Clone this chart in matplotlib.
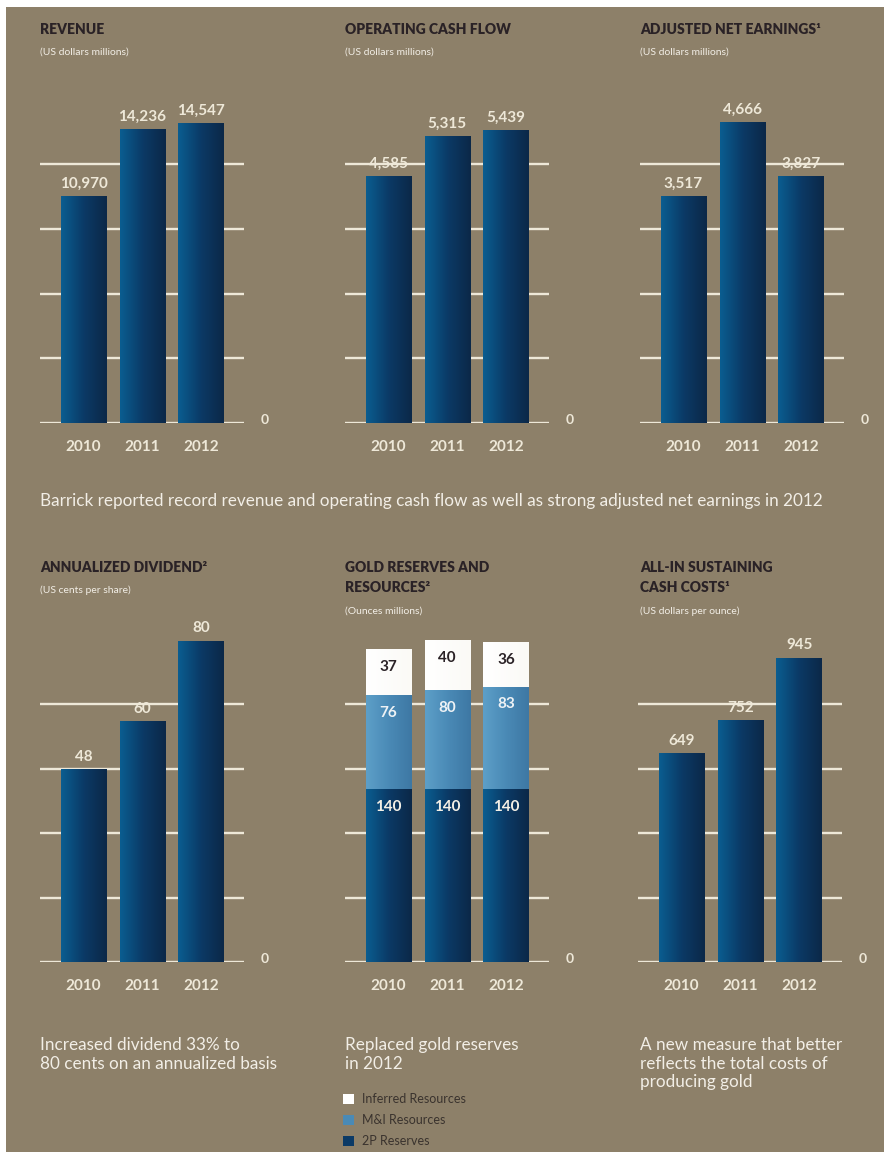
import matplotlib
matplotlib.use('Agg')
import matplotlib.pyplot as plt
from matplotlib.patches import Rectangle, Patch
from matplotlib.colors import LinearSegmentedColormap
import numpy as np

W, H = 884, 1152
BG = '#8d8069'
CREAM = '#eee8d8'
DARK = '#2a2226'
plt.rcParams['font.family'] = ['Lato', 'DejaVu Sans']

# data
years = ['2010', '2011', '2012']
revenue = [10970, 14236, 14547]
op_cash_flow = [4585, 5315, 5439]
adj_net_earnings = [3517, 4666, 3827]
dividend = [48, 60, 80]
reserves_2p = [140, 140, 140]
mi_resources = [76, 80, 83]
inferred_resources = [37, 40, 36]
aisc = [649, 752, 945]

dark_cmap = LinearSegmentedColormap.from_list('dk', ['#0a5d90', '#0b3a66', '#0c2848'])
light_cmap = LinearSegmentedColormap.from_list('lt', ['#5d9fc8', '#4a8ab6', '#3e78a4'])
white_cmap = LinearSegmentedColormap.from_list('wh', ['#ffffff', '#fbfaf6'])
grad = np.linspace(0, 1, 64).reshape(1, -1)

fig = plt.figure(figsize=(W / 100, H / 100), dpi=100, facecolor='white')
fig.patches.append(Rectangle((6 / W, 0), 1, 1 - 7 / H, transform=fig.transFigure,
                             facecolor=BG, edgecolor='none', zorder=-10))


def ftext(x, y, s, **kw):
    kw.setdefault('va', 'center')
    return fig.text(x / W, 1 - y / H, s, **kw)


def chart(left, baseline, top, series, maxpx, gridpx, labels='top'):
    ax = fig.add_axes([left / W, 1 - baseline / H, 204 / W, (baseline - top) / H])
    ax.set_axis_off()
    total = np.sum([s[0] for s in series], axis=0)
    scale = max(total) / maxpx
    ymax = scale * (baseline - top)
    for k in range(5):
        ax.axhline(k * gridpx * scale, color=CREAM, lw=1.7, zorder=1)
    x = np.arange(len(years))
    bottom = np.zeros(len(years))
    for vals, cmap, tcol in series:
        bars = ax.bar(x, vals, 0.77, bottom=bottom, color='none', zorder=2)
        for p, v in zip(bars.patches, vals):
            x0, y0 = p.get_xy()
            ax.imshow(grad, extent=[x0, x0 + p.get_width(), y0, y0 + p.get_height()],
                      aspect='auto', cmap=cmap, zorder=3, interpolation='bilinear')
            if labels == 'top':
                ax.annotate(f'{v:,}', (x0 + p.get_width() / 2, y0 + p.get_height()),
                            xytext=(0, 4), textcoords='offset points', ha='center',
                            va='bottom', color=CREAM, fontsize=11, fontweight='bold', zorder=5)
            else:
                ax.annotate(f'{v:,}', (x0 + p.get_width() / 2, y0 + p.get_height()),
                            xytext=(0, -12.5), textcoords='offset points', ha='center',
                            va='center', color=tcol, fontsize=11, fontweight='bold', zorder=5)
        bottom = bottom + np.array(vals)
    ax.set_xlim(-0.74, 2.73)
    ax.set_ylim(0, ymax)
    for xi, yr in zip(x, years):
        ax.annotate(yr, (xi, 0), xytext=(0, -17.5), textcoords='offset points',
                    ha='center', va='center', color=CREAM, fontsize=11, fontweight='bold')
    ax.annotate('0', (1, 0), xycoords=('axes fraction', 'data'), xytext=(12, 2),
                textcoords='offset points', ha='left', va='center', color=CREAM,
                fontsize=10, fontweight='bold')
    return ax


# top row
chart(40, 423, 100, [(revenue, dark_cmap, CREAM)], 300, 64.75)
chart(345, 423, 100, [(op_cash_flow, dark_cmap, CREAM)], 293, 64.75)
chart(640, 423, 100, [(adj_net_earnings, dark_cmap, CREAM)], 301, 64.75)

# bottom row
chart(40, 962, 620, [(dividend, dark_cmap, CREAM)], 321, 64.5)
chart(345, 962, 620, [(reserves_2p, dark_cmap, '#f4f0e6'),
                      (mi_resources, light_cmap, '#eef2f5'),
                      (inferred_resources, white_cmap, DARK)], 321, 64.5, labels='inside')
chart(638, 962, 620, [(aisc, dark_cmap, CREAM)], 304, 64.5)

tkw = dict(color=DARK, fontsize=10, fontweight='heavy')
skw = dict(color='#f2eee6', fontsize=7.5)
ftext(40, 30, 'REVENUE', **tkw)
ftext(40, 52, '(US dollars millions)', **skw)
ftext(345, 30, 'OPERATING CASH FLOW', **tkw)
ftext(345, 52, '(US dollars millions)', **skw)
ftext(640, 30, 'ADJUSTED NET EARNINGS\u00b9', **tkw)
ftext(640, 52, '(US dollars millions)', **skw)

ftext(40, 568, 'ANNUALIZED DIVIDEND\u00b2', **tkw)
ftext(40, 590, '(US cents per share)', **skw)
ftext(345, 568, 'GOLD RESERVES AND', **tkw)
ftext(345, 588, 'RESOURCES\u00b2', **tkw)
ftext(345, 611, '(Ounces millions)', **skw)
ftext(640, 568, 'ALL-IN SUSTAINING', **tkw)
ftext(640, 588, 'CASH COSTS\u00b9', **tkw)
ftext(640, 611, '(US dollars per ounce)', **skw)

ckw = dict(color='#f2eee6', fontsize=12.3, va='top', linespacing=1.2)
ftext(40, 493, 'Barrick reported record revenue and operating cash flow as well as strong '
      'adjusted net earnings in 2012', **ckw)
ftext(40, 1037, 'Increased dividend 33% to\n80 cents on an annualized basis', **ckw)
ftext(345, 1037, 'Replaced gold reserves\nin 2012', **ckw)
ftext(640, 1037, 'A new measure that better\nreflects the total costs of\nproducing gold', **ckw)

handles = [Patch(facecolor='#ffffff', label='Inferred Resources'),
           Patch(facecolor='#4a8ab6', label='M&I Resources'),
           Patch(facecolor='#0b3a66', label='2P Reserves')]
fig.legend(handles=handles, loc='upper left', bbox_to_anchor=(343 / W, 1 - 1093 / H),
           frameon=False, fontsize=9, labelcolor='#3a332e', handlelength=0.9,
           handleheight=0.9, handletextpad=0.6, labelspacing=0.72, borderaxespad=0,
           borderpad=0)

fig.savefig('out.png', dpi=100, facecolor='white')
